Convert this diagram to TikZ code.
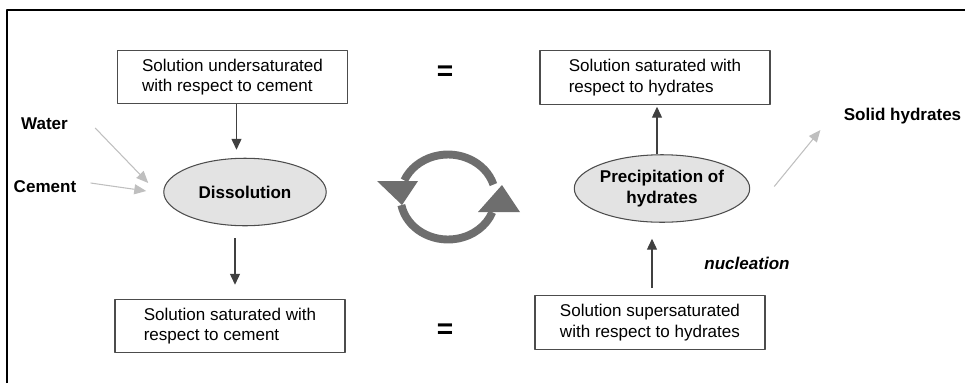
\documentclass[tikz,border=0pt]{standalone}
\usepackage{fontspec}
\setmainfont{Liberation Sans}
\usetikzlibrary{arrows.meta,shapes.geometric,calc}
\begin{document}
\begin{tikzpicture}[x=0.02cm,y=-0.02cm,font=\fontsize{9.7}{11.8}\selectfont,line join=round,
  box/.style={draw=black!70,line width=0.6pt,minimum width=4.6cm,minimum height=1.07cm,align=left,inner sep=0pt},
  proc/.style={ellipse,draw=black!70,line width=0.6pt,fill=black!11,minimum width=3.25cm,minimum height=1.35cm,inner sep=0pt,font=\fontsize{9.7}{11.8}\selectfont\bfseries,align=center},
  lbl/.style={font=\fontsize{9.7}{11.8}\selectfont\bfseries,inner sep=0pt},
  darr/.style={draw=black!75,line width=0.6pt,-{Triangle[width=5.7pt,length=6.2pt]}},
  larr/.style={draw=black!25,line width=0.6pt,-{Triangle[width=5.7pt,length=6.8pt]}},
  ring/.style={draw=black!57,line width=4.5pt}]
\useasboundingbox (0,0) rectangle (965,383);
% frame
\draw[line width=1.7pt] (7,383) -- (7,10) -- (965,10);
% boxes
\node[box] (b1) at (232.5,77) {Solution undersaturated\\with respect to cement};
\node[box] (b2) at (230,326) {Solution saturated with\\respect to cement};
\node[box] (b3) at (655,77.5) {Solution saturated with\\respect to hydrates};
\node[box] (b4) at (650,322.5) {Solution supersaturated\\with respect to hydrates};
% processes
\node[proc] (e1) at (245,192) {Dissolution};
\node[proc] (e2) at (662,188.5) {Precipitation of\\hydrates};
% labels
\node[lbl] (water) at (44.5,124) {Water};
\node[lbl] (cement) at (45,187) {Cement};
\node[lbl] (solid) at (902.5,116) {Solid hydrates};
\node[lbl,font=\fontsize{9.7}{11.8}\selectfont\bfseries\itshape] (nucl) at (747,263) {nucleation};
\node[font=\fontsize{16}{16}\selectfont\bfseries,inner sep=0pt] (eq1) at (445,73) {=};
\node[font=\fontsize{16}{16}\selectfont\bfseries,inner sep=0pt] (eq2) at (445,331) {=};
% arrows
\draw[darr,shorten >=0.16cm] ($(b1.south)+(4,0)$) -- ($(b1.south |- e1.north)+(4,0)$);
\draw[darr,shorten <=0.24cm,shorten >=0.28cm] ($(b2.north |- e1.south)+(5,0)$) -- ($(b2.north)+(5,0)$);
\draw[darr,shorten >=0.04cm] ($(b3.south |- e2.north)+(2,0)$) -- ($(b3.south)+(2,0)$);
\draw[darr,shorten <=0.14cm,shorten >=0.32cm] ($(b4.north)+(2,0)$) -- ($(b4.north |- e2.south)+(2,0)$);
\draw[larr] ($(water.east)+(27,4)$) -- ($(e1.west)+(-15,-9)$);
\draw[larr] ($(cement.east)+(14,-4)$) -- ($(e1.west)+(-17,-1)$);
\draw[larr] ($(e2.east)+(24,-2)$) -- ($(solid.west)+(-23,14)$);
% cycle
\coordinate (cyc) at (448,197);
\draw[ring] ($(cyc)+(17:0.95cm and 0.85cm)$) arc[start angle=17,end angle=157,x radius=0.95cm,y radius=0.85cm];
\draw[ring] ($(cyc)+(191:0.95cm and 0.85cm)$) arc[start angle=191,end angle=339,x radius=0.95cm,y radius=0.85cm];
\fill[black!57] (377,181) -- (418,181) -- (402,205) -- cycle;
\fill[black!57] (478,212) -- (520,212) -- (502,185) -- cycle;
\end{tikzpicture}
\end{document}
